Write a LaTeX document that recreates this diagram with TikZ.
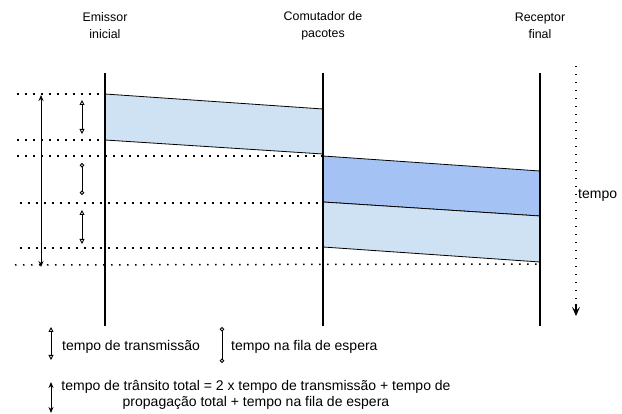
\documentclass[tikz,border=0pt]{standalone}
\usepackage{fontspec}
\setmainfont{Liberation Sans}
\definecolor{PktLight}{RGB}{207,226,243}
\definecolor{PktDark}{RGB}{164,194,244}
\usetikzlibrary{arrows.meta}

\begin{document}
\begin{tikzpicture}[
    x=1pt, y=-1pt,
    host/.style={line width=2.6pt},
    pkt/.style={draw=black, line width=0.8pt},
    timeline/.style={line width=1.5pt, dash pattern=on 1.5pt off 6.5pt},
    txarrow/.style={{Triangle[open, length=5pt, width=5pt]}-{Triangle[open, length=5pt, width=5pt]}, line width=0.9pt},
    queuebar/.style={{Circle[open, length=4.5pt]}-{Circle[open, length=4.5pt]}, line width=0.9pt},
    totalarrow/.style={{Stealth[length=6pt, width=5pt]}-{Stealth[length=6pt, width=5pt]}, line width=0.9pt},
    hostname/.style={font=\fontsize{12.4}{17}\selectfont, align=center},
    legendtext/.style={font=\fontsize{14}{16}\selectfont, align=center, inner sep=0pt}
]
    \useasboundingbox (0,0) rectangle (622,414);
    \node[hostname] (emissor)   at (105,26) {Emissor\\inicial};
    \node[hostname] (comutador) at (323,26) {Comutador de\\pacotes};
    \node[hostname] (receptor)  at (540,26) {Receptor\\final};
    % pacotes
    \filldraw[pkt, fill=PktLight] (105,94) -- (323,109) -- (323,154) -- (105,140) -- cycle;
    \filldraw[pkt, fill=PktDark]  (323,156) -- (540,171) -- (540,216) -- (323,202) -- cycle;
    \filldraw[pkt, fill=PktLight] (323,202) -- (540,216) -- (540,262) -- (323,247) -- cycle;
    % linhas de tempo pontilhadas
    \draw[timeline] (17,94)  -- (105,94);
    \draw[timeline] (17,140) -- (105,140);
    \draw[timeline] (17,156) -- (323,156);
    \draw[timeline] (20,203) -- (323,203);
    \draw[timeline] (20,248) -- (323,248);
    \draw[timeline] (15,265) -- (540,264);
    % nos
    \draw[host] (105,73) -- (105,326);
    \draw[host] (323,73) -- (323,326);
    \draw[host] (540,73) -- (540,326);
    % marcas de tempo
    \coordinate (tot top) at (41,95);
    \coordinate (tot bot) at (41,267);
    \coordinate (tx1 top) at (82,100);
    \coordinate (tx1 bot) at (82,134);
    \coordinate (q top)   at (82,163);
    \coordinate (q bot)   at (82,195);
    \coordinate (tx2 top) at (82,210);
    \coordinate (tx2 bot) at (82,244);
    \draw[totalarrow] (tot top) -- (tot bot);
    \draw[txarrow] (tx1 top) -- (tx1 bot);
    \draw[queuebar] (q top) -- (q bot);
    \draw[txarrow] (tx2 top) -- (tx2 bot);
    % eixo do tempo
    \coordinate (t start) at (576,66);
    \coordinate (t tip)   at (576,304);
    \coordinate (t end)   at (576,316);
    \draw[timeline] (t start) -- (t tip);
    \draw[line width=1.2pt, -{Stealth[length=9pt, width=8pt, inset=4pt]}] (t tip) -- (t end);
    \node[legendtext, anchor=west] (tempo) at (578,195) {tempo};
    % legenda
    \coordinate (ltx top) at (51,327);
    \coordinate (ltx bot) at (51,360);
    \coordinate (lq top)  at (222,327);
    \coordinate (lq bot)  at (222,363);
    \coordinate (ltot top) at (51,382);
    \coordinate (ltot bot) at (51,413);
    \draw[txarrow] (ltx top) -- (ltx bot);
    \node[legendtext, anchor=west] (txlabel) at (62,347) {tempo de transmissão};
    \draw[queuebar] (lq top) -- (lq bot);
    \node[legendtext, anchor=west] (qlabel) at (231,347) {tempo na fila de espera};
    \draw[totalarrow] (ltot top) -- (ltot bot);
    \node[legendtext] (totlabel) at (256,395) {tempo de trânsito total = 2 x tempo de transmissão + tempo de\\propagação total + tempo na fila de espera};
\end{tikzpicture}
\end{document}
